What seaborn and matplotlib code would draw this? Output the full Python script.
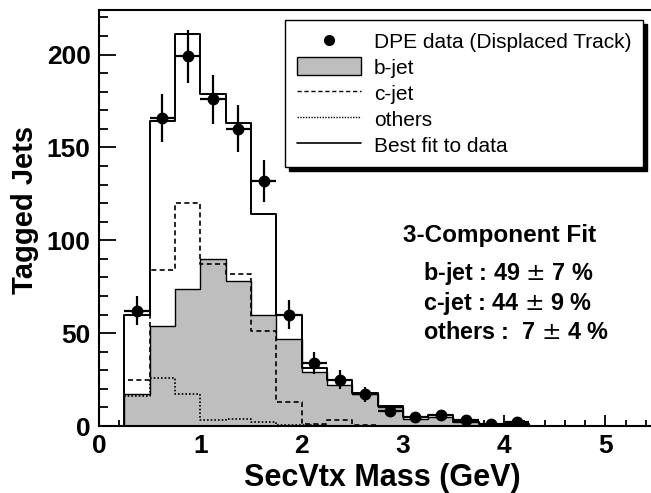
import numpy as np
import matplotlib
matplotlib.use("Agg")
import matplotlib.pyplot as plt
from matplotlib.lines import Line2D
from matplotlib.patches import Patch
from matplotlib.ticker import MultipleLocator
import seaborn as sns

# ------------------------------------------------------------
# Data (bins of 0.25 GeV from 0.25 to 4.25)
# ------------------------------------------------------------
bin_centers = [0.375, 0.625, 0.875, 1.125, 1.375, 1.625, 1.875, 2.125,
               2.375, 2.625, 2.875, 3.125, 3.375, 3.625, 3.875, 4.125]
data_counts = [62, 166, 199, 176, 160, 132, 60, 34, 25, 17, 8, 5, 6, 3, 1, 2]
fit_total = [60, 164, 211, 179, 163, 114, 60, 31, 25, 18, 11, 5, 6, 2, 1, 1]
bjet = [17, 54, 74, 90, 78, 60, 47, 29, 22, 17, 10, 4, 5, 2, 1, 1]
cjet = [25, 84, 120, 87, 82, 51, 13, 1, 3, 0.5, 0, 0, 0, 0, 0, 0]
others = [16, 26, 17, 3, 4, 2, 0.5, 0.5, 0, 0, 0, 0, 0, 0, 0, 0]

bin_edges = [i * 0.25 for i in range(19)]
fit_text = ["b-jet : 49 $\\pm$ 7 %", "c-jet : 44 $\\pm$ 9 %", "others :  7 $\\pm$ 4 %"]

# ------------------------------------------------------------
# Style
# ------------------------------------------------------------
sns.set_style("ticks")
plt.rcParams["font.family"] = ["Liberation Sans", "DejaVu Sans"]
plt.rcParams["axes.linewidth"] = 1.5
plt.rcParams["text.color"] = "black"
plt.rcParams["axes.labelcolor"] = "black"
plt.rcParams["xtick.color"] = "black"
plt.rcParams["ytick.color"] = "black"

fig = plt.figure(figsize=(6.51, 4.93), dpi=100)
ax = fig.add_axes([99 / 651, 67 / 493, 557 / 651, 416 / 493])

# b-jet filled template
sns.histplot(x=bin_centers, weights=bjet, bins=bin_edges, element="step",
             fill=True, color="#bebebe", alpha=1, edgecolor="black",
             linewidth=1.0, ax=ax)
# c-jet dashed
sns.histplot(x=bin_centers, weights=cjet, bins=bin_edges, element="step",
             fill=False, color="black", linestyle=(0, (3, 2)), linewidth=1.2,
             ax=ax)
# others dotted
sns.histplot(x=bin_centers, weights=others, bins=bin_edges, element="step",
             fill=False, color="black", linestyle=(0, (1, 1.2)), linewidth=1.2,
             ax=ax)
# total fit
sns.histplot(x=bin_centers, weights=fit_total, bins=bin_edges, element="step",
             fill=False, color="black", linewidth=1.4, ax=ax)

# data points with Poisson errors
ax.errorbar(bin_centers, data_counts, xerr=0.125, yerr=np.sqrt(data_counts),
            fmt="o", color="black", markersize=7.5, elinewidth=1.6,
            capsize=0, zorder=5)

# ------------------------------------------------------------
# Axes
# ------------------------------------------------------------
ax.set_xlim(0, 5.5)
ax.set_ylim(0, 224)
ax.xaxis.set_major_locator(MultipleLocator(1))
ax.xaxis.set_minor_locator(MultipleLocator(0.2))
ax.yaxis.set_major_locator(MultipleLocator(50))
ax.yaxis.set_minor_locator(MultipleLocator(10))
ax.tick_params(axis="both", which="both", direction="in", width=1.3,
               labelsize=19, color="black", labelcolor="black")
ax.tick_params(axis="y", which="major", length=12.5, pad=6)
ax.tick_params(axis="y", which="minor", length=6.3)
ax.tick_params(axis="x", which="major", length=8, pad=6)
ax.tick_params(axis="x", which="minor", length=4)
for lab in ax.get_xticklabels() + ax.get_yticklabels():
    lab.set_fontweight("bold")

for side in ["top", "right", "left", "bottom"]:
    ax.spines[side].set_visible(True)
    ax.spines[side].set_color("black")

ax.set_xlabel("SecVtx Mass (GeV)", fontsize=22, fontweight="bold",
              color="black")
ax.set_ylabel("Tagged Jets", fontsize=21, fontweight="bold", color="black")
ax.xaxis.set_label_coords(0.508, -0.088)
ax.yaxis.set_label_coords(-0.108, 0.52)

# ------------------------------------------------------------
# Legend
# ------------------------------------------------------------
handles = [
    Line2D([], [], marker="o", color="black", linestyle="none", markersize=7),
    Patch(facecolor="#bebebe", edgecolor="black", linewidth=1.0),
    Line2D([], [], color="black", linestyle=(0, (3, 2)), linewidth=1.0),
    Line2D([], [], color="black", linestyle=(0, (1, 1)), linewidth=1.0),
    Line2D([], [], color="black", linewidth=1.2),
]
labels = ["DPE data (Displaced Track)", "b-jet", "c-jet", "others",
          "Best fit to data"]
leg = ax.legend(handles, labels, loc="upper right",
                bbox_to_anchor=(0.976, 0.976), borderaxespad=0,
                fontsize=15, frameon=True, fancybox=False,
                shadow={"ox": 3, "oy": -3, "facecolor": "black",
                        "edgecolor": "black", "alpha": 1},
                handlelength=3.1, handleheight=0.95, handletextpad=0.6,
                labelspacing=0.28, borderpad=0.55)
leg.get_frame().set_edgecolor("black")
leg.get_frame().set_linewidth(1.0)
leg.get_frame().set_alpha(1)
for txt in leg.get_texts():
    txt.set_color("black")

# ------------------------------------------------------------
# Fit result annotation
# ------------------------------------------------------------
ax.text(3.0, 102.7, "3-Component Fit", fontsize=17.5, fontweight="bold",
        ha="left", va="center", color="black")
for i, line in enumerate(fit_text):
    ax.text(3.2, 82 - i * 15.8, line, fontsize=16.8, fontweight="bold",
            ha="left", va="center", color="black")

fig.savefig("out.png", dpi=100)
